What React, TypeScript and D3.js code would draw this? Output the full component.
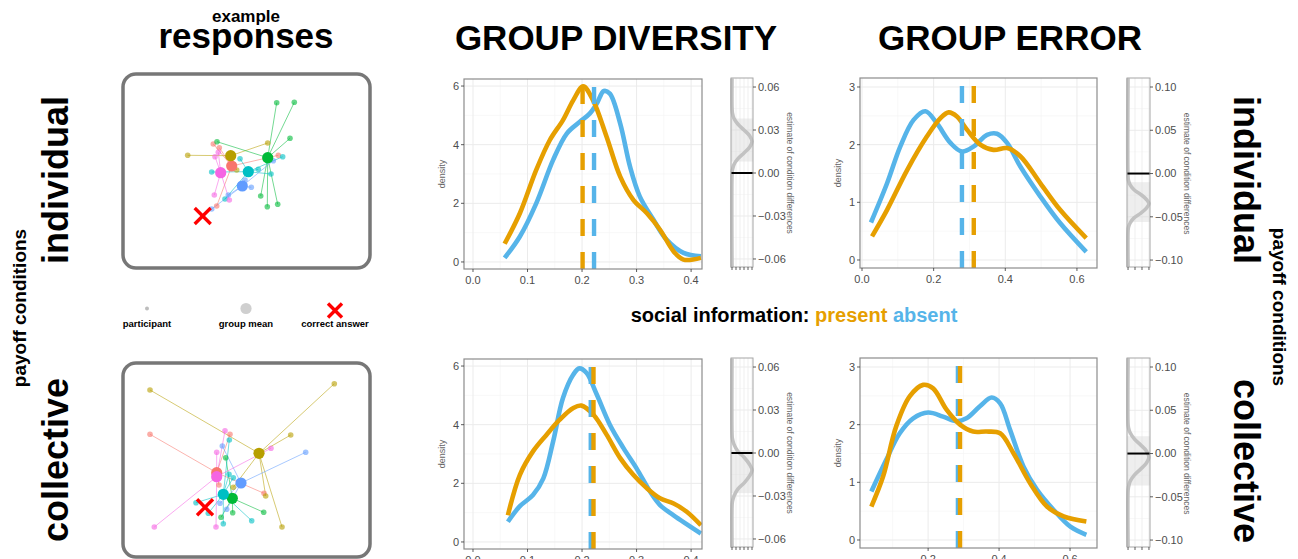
import React from 'react';
import * as d3 from 'd3';

const PRESENT = '#E69F00';
const ABSENT = '#56B4E9';
const FONT = 'Liberation Sans, Arial, Helvetica, sans-serif';

// ggplot hue palette for the 6 example groups
const HUE = ['#F8766D', '#B79F00', '#00BA38', '#00BFC4', '#619CFF', '#F564E3'];

// ---- example responses (box units 0..247 x 0..195) ----
const indivMeans: [number, number][] = [[108.7, 92], [107.7, 81.7], [144.7, 83.7], [125.3, 97.7], [119.3, 112], [97.7, 98.7]];
const indivParticipants: [number, number][][] = [
  [[90.3, 70], [155.3, 81.3], [93.7, 132], [96.3, 73.7]],
  [[64.7, 81.3], [144.7, 69], [113.7, 96]],
  [[153.7, 28.7], [171.3, 28.3], [167, 64.3], [94, 67.7], [137.7, 122], [144.3, 132.7], [154.7, 130.3]],
  [[117, 84.7], [88.7, 98], [159.7, 82.7], [148, 100], [102, 125], [135.3, 95.3]],
  [[128.3, 113.3], [150.3, 86.7], [105.3, 121], [88.7, 135], [122, 106]],
  [[92, 82.7], [91.3, 121], [106.3, 126], [95.3, 78.3]],
];
const indivAnswer: [number, number] = [79.7, 142];

const collMeans: [number, number][] = [[93.7, 109.7], [136, 90.3], [109.3, 135.3], [100.3, 131.3], [118, 120], [93.7, 113.7]];
const collParticipants: [number, number][][] = [
  [[27, 71.3], [107, 71.3], [141, 130.3], [96, 122]],
  [[27, 27], [211.3, 20.7], [167.7, 72], [159, 164], [142.7, 133], [110.3, 124.3]],
  [[102.7, 94.7], [140.7, 149.3], [98, 154.3], [109.7, 149.7]],
  [[106.3, 77], [106, 111.3], [110.3, 114.7], [73, 139.7], [100.3, 160.7], [128.7, 157.7], [85.3, 150.3]],
  [[182.7, 89.3], [99.3, 83], [97, 140.3], [103.7, 146.3]],
  [[102, 67.7], [93.7, 89.3], [148, 85.3], [31.3, 164], [93, 164]],
];
const collAnswer: [number, number] = [82, 144.3];

// ---- density curves [value, density] ----
const divIndivPresent: [number, number][] = [[0.058, 0.62], [0.086, 1.66], [0.116, 3.14], [0.141, 4.16], [0.165, 4.84], [0.184, 5.52], [0.202, 5.99], [0.22, 5.52], [0.245, 4.27], [0.27, 2.91], [0.294, 2.12], [0.319, 1.66], [0.343, 1.1], [0.368, 0.36], [0.386, 0.08], [0.418, 0.14]];
const divIndivAbsent: [number, number][] = [[0.058, 0.14], [0.086, 0.87], [0.116, 2.0], [0.147, 3.48], [0.172, 4.38], [0.196, 4.78], [0.214, 5.06], [0.227, 5.4], [0.24, 5.83], [0.251, 5.74], [0.27, 4.72], [0.288, 3.25], [0.306, 2.23], [0.331, 1.44], [0.355, 0.76], [0.386, 0.31], [0.418, 0.19]];
const errIndivPresent: [number, number][] = [[0.028, 0.41], [0.07, 0.87], [0.126, 1.56], [0.181, 2.14], [0.219, 2.46], [0.242, 2.56], [0.265, 2.49], [0.293, 2.26], [0.33, 2.0], [0.367, 1.91], [0.405, 1.94], [0.442, 1.8], [0.498, 1.33], [0.553, 0.87], [0.626, 0.38]];
const errIndivAbsent: [number, number][] = [[0.025, 0.65], [0.07, 1.33], [0.107, 1.97], [0.144, 2.43], [0.177, 2.58], [0.209, 2.37], [0.247, 2.03], [0.279, 1.88], [0.312, 1.97], [0.349, 2.17], [0.377, 2.19], [0.405, 2.03], [0.442, 1.62], [0.498, 1.1], [0.553, 0.64], [0.626, 0.14]];
const divCollPresent: [number, number][] = [[0.064, 0.91], [0.086, 2.29], [0.11, 3.09], [0.135, 3.66], [0.159, 4.17], [0.184, 4.57], [0.199, 4.65], [0.221, 4.34], [0.245, 3.66], [0.27, 2.86], [0.294, 2.29], [0.319, 1.83], [0.343, 1.49], [0.368, 1.31], [0.392, 1.03], [0.418, 0.57]];
const divCollAbsent: [number, number][] = [[0.064, 0.69], [0.086, 1.22], [0.11, 1.6], [0.129, 2.17], [0.147, 3.43], [0.165, 4.91], [0.184, 5.71], [0.195, 5.92], [0.208, 5.77], [0.227, 5.03], [0.251, 4.0], [0.276, 3.2], [0.3, 2.51], [0.325, 1.71], [0.343, 1.26], [0.368, 0.91], [0.418, 0.29]];
const errCollPresent: [number, number][] = [[0.04, 0.58], [0.073, 1.1], [0.11, 1.97], [0.148, 2.49], [0.186, 2.69], [0.214, 2.63], [0.252, 2.26], [0.29, 2.0], [0.327, 1.88], [0.365, 1.88], [0.403, 1.85], [0.441, 1.5], [0.488, 0.98], [0.535, 0.58], [0.582, 0.41], [0.646, 0.32]];
const errCollAbsent: [number, number][] = [[0.04, 0.84], [0.082, 1.39], [0.12, 1.85], [0.158, 2.11], [0.2, 2.21], [0.242, 2.14], [0.28, 2.06], [0.308, 2.11], [0.346, 2.32], [0.379, 2.47], [0.403, 2.37], [0.431, 1.91], [0.469, 1.27], [0.507, 0.87], [0.554, 0.52], [0.601, 0.23], [0.646, 0.09]];

// group means [present, absent]
const divIndivMeans = [0.201, 0.222];
const errIndivMeans = [0.312, 0.279];
const divCollMeans = [0.221, 0.216];
const errCollMeans = [0.290, 0.284];

// ---- posterior of condition difference [estimate, relative density] ----
const divIndivDiff: [number, number][] = [[0.066, 0], [0.046, 0], [0.042, 0.02], [0.038, 0.1], [0.034, 0.3], [0.03, 0.6], [0.026, 0.88], [0.022, 1], [0.018, 0.88], [0.014, 0.6], [0.01, 0.3], [0.006, 0.1], [0.002, 0.02], [-0.002, 0], [-0.066, 0]];
const errIndivDiff: [number, number][] = [[0.11, 0], [-0.004, 0], [-0.008, 0.02], [-0.013, 0.1], [-0.019, 0.3], [-0.024, 0.6], [-0.03, 0.88], [-0.035, 1], [-0.04, 0.88], [-0.046, 0.6], [-0.051, 0.3], [-0.057, 0.1], [-0.062, 0.02], [-0.066, 0], [-0.108, 0]];
const divCollDiff: [number, number][] = [[0.066, 0], [0.014, 0], [0.01, 0.02], [0.006, 0.1], [0.001, 0.3], [-0.003, 0.6], [-0.008, 0.88], [-0.012, 1], [-0.016, 0.88], [-0.021, 0.6], [-0.025, 0.3], [-0.03, 0.1], [-0.034, 0.02], [-0.038, 0], [-0.066, 0]];
const errCollDiff: [number, number][] = [[0.11, 0], [0.034, 0], [0.03, 0.02], [0.024, 0.1], [0.017, 0.3], [0.01, 0.6], [0.003, 0.88], [-0.004, 1], [-0.011, 0.88], [-0.018, 0.6], [-0.025, 0.3], [-0.032, 0.1], [-0.039, 0.02], [-0.043, 0], [-0.108, 0]];
const divIndivCI = [0.008, 0.038];
const errIndivCI = [-0.056, -0.01];
const divCollCI = [-0.028, 0.002];
const errCollCI = [-0.037, 0.02];

// ---- ticks ----
const divXTicks = [0, 0.1, 0.2, 0.3, 0.4];
const divXMinor = [0.05, 0.15, 0.25, 0.35];
const divYTicks = [0, 2, 4, 6];
const divYMinor = [1, 3, 5];
const errXTicks = [0, 0.2, 0.4, 0.6];
const errXMinor = [0.1, 0.3, 0.5];
const errYTicks = [0, 1, 2, 3];
const errYMinor = [0.5, 1.5, 2.5];
const divDiffTicks = [0.06, 0.03, 0, -0.03, -0.06];
const divDiffMinor = [0.045, 0.015, -0.015, -0.045];
const errDiffTicks = [0.1, 0.05, 0, -0.05, -0.1];
const errDiffMinor = [0.075, 0.025, -0.025, -0.075];
const divStripTicks = [0, 0.2, 0.4, 0.6, 0.8, 1];
const errStripTicks = [0, 1 / 3, 2 / 3, 1];

type Pt = [number, number];

function DensityPanel(p: any) {
  const { id, left, right, top, bottom, xDomain, yDomain, xTicks, xMinor, yTicks, yMinor, present, absent, means } = p;
  const x = d3.scaleLinear().domain(xDomain).range([left, right]);
  const y = d3.scaleLinear().domain(yDomain).range([bottom, top]);
  const line = d3.line<Pt>().x(d => x(d[0])).y(d => y(d[1])).curve(d3.curveCatmullRom);
  const fx = d3.format('.1f');
  const inX = (v: number) => x(v) >= left - 0.5 && x(v) <= right + 0.5;
  return (
    <g>
      <clipPath id={id}><rect x={left} y={top} width={right - left} height={bottom - top} /></clipPath>
      <rect x={left} y={top} width={right - left} height={bottom - top} fill="#fff" />
      {xMinor.map((t: number) => <line key={'xm' + t} x1={x(t)} x2={x(t)} y1={top} y2={bottom} stroke="#f4f4f4" strokeWidth={0.6} />)}
      {yMinor.map((t: number) => <line key={'ym' + t} x1={left} x2={right} y1={y(t)} y2={y(t)} stroke="#f4f4f4" strokeWidth={0.6} />)}
      {xTicks.filter(inX).map((t: number) => <line key={'xg' + t} x1={x(t)} x2={x(t)} y1={top} y2={bottom} stroke="#ebebeb" strokeWidth={1} />)}
      {yTicks.map((t: number) => <line key={'yg' + t} x1={left} x2={right} y1={y(t)} y2={y(t)} stroke="#ebebeb" strokeWidth={1} />)}
      <g clipPath={`url(#${id})`}>
        <path d={line(absent) || ''} fill="none" stroke={ABSENT} strokeWidth={4.6} />
        <path d={line(present) || ''} fill="none" stroke={PRESENT} strokeWidth={4.6} />
        <line x1={x(means[1])} x2={x(means[1])} y1={bottom} y2={top} stroke={ABSENT} strokeWidth={4.4} strokeDasharray="17,16" />
        <line x1={x(means[0])} x2={x(means[0])} y1={bottom} y2={top} stroke={PRESENT} strokeWidth={4.4} strokeDasharray="17,16" />
      </g>
      <rect x={left} y={top} width={right - left} height={bottom - top} fill="none" stroke="#8c8c8c" strokeWidth={1.2} />
      {yTicks.map((t: number) => (
        <g key={'yt' + t}>
          <line x1={left - 3} x2={left} y1={y(t)} y2={y(t)} stroke="#333" strokeWidth={0.8} />
          <text x={left - 5} y={y(t)} dy="0.36em" textAnchor="end" fontSize={11} fill="#4d4d4d" fontFamily={FONT}>{t}</text>
        </g>
      ))}
      {xTicks.filter(inX).map((t: number) => (
        <g key={'xt' + t}>
          <line x1={x(t)} x2={x(t)} y1={bottom} y2={bottom + 3} stroke="#333" strokeWidth={0.8} />
          <text x={x(t)} y={bottom + 15} textAnchor="middle" fontSize={11} fill="#4d4d4d" fontFamily={FONT}>{fx(t)}</text>
        </g>
      ))}
      <text transform={`translate(${left - 19},${(top + bottom) / 2}) rotate(-90)`} textAnchor="middle" fontSize={9} fill="#666" fontFamily={FONT}>density</text>
    </g>
  );
}

function DiffStrip(p: any) {
  const { left, right, top, bottom, domain, ticks, minor, post, ci, stripTicks } = p;
  const y = d3.scaleLinear().domain(domain).range([bottom, top]);
  const x = d3.scaleLinear().domain([-0.05, 1.05]).range([left, right]);
  const line = d3.line<Pt>().x(d => x(d[1])).y(d => y(d[0])).curve(d3.curveCatmullRom);
  const f = d3.format('.2f');
  return (
    <g>
      <rect x={left} y={top} width={right - left} height={bottom - top} fill="#fff" />
      {minor.map((t: number) => <line key={'m' + t} x1={left} x2={right} y1={y(t)} y2={y(t)} stroke="#f4f4f4" strokeWidth={0.6} />)}
      {ticks.map((t: number) => <line key={'g' + t} x1={left} x2={right} y1={y(t)} y2={y(t)} stroke="#ebebeb" strokeWidth={1} />)}
      {stripTicks.map((t: number) => <line key={'v' + t} x1={x(t)} x2={x(t)} y1={top} y2={bottom} stroke="#ebebeb" strokeWidth={0.8} />)}
      <rect x={left} y={y(ci[1])} width={right - left} height={y(ci[0]) - y(ci[1])} fill="#d9d9d9" opacity={0.45} />
      <path d={line(post) || ''} fill="none" stroke="#c2c2c2" strokeWidth={3.6} />
      <line x1={left} x2={right} y1={y(0)} y2={y(0)} stroke="#000" strokeWidth={2} />
      <rect x={left} y={top} width={right - left} height={bottom - top} fill="none" stroke="#a6a6a6" strokeWidth={1} />
      {stripTicks.map((t: number) => <line key={'bt' + t} x1={x(t)} x2={x(t)} y1={bottom} y2={bottom + 3} stroke="#333" strokeWidth={0.8} />)}
      {ticks.map((t: number) => (
        <g key={'t' + t}>
          <line x1={right} x2={right + 3} y1={y(t)} y2={y(t)} stroke="#333" strokeWidth={0.8} />
          <text x={right + 5} y={y(t)} dy="0.36em" fontSize={11} fill="#4d4d4d" fontFamily={FONT}>{f(t)}</text>
        </g>
      ))}
      <text transform={`translate(${right + 34},${y(0)}) rotate(90)`} textAnchor="middle" fontSize={8.5} fill="#666" fontFamily={FONT}>estimate of condition differences</text>
    </g>
  );
}

function Example(p: any) {
  const { top, means, participants, answer } = p;
  const ex = d3.scaleLinear().domain([0, 247]).range([123, 370]);
  const ey = d3.scaleLinear().domain([0, 195]).range([top, top + 195]);
  return (
    <g>
      <rect x={ex(0)} y={ey(0)} width={247} height={194} rx={13} fill="#fff" stroke="#777" strokeWidth={3.5} />
      {participants.map((pts: Pt[], g: number) => pts.map((q, i) => (
        <line key={`l${g}-${i}`} x1={ex(q[0])} y1={ey(q[1])} x2={ex(means[g][0])} y2={ey(means[g][1])} stroke={HUE[g]} strokeOpacity={0.55} strokeWidth={1} />
      )))}
      {participants.map((pts: Pt[], g: number) => pts.map((q, i) => (
        <circle key={`c${g}-${i}`} cx={ex(q[0])} cy={ey(q[1])} r={2.8} fill={HUE[g]} fillOpacity={0.6} />
      )))}
      {means.map((m: Pt, g: number) => <circle key={'m' + g} cx={ex(m[0])} cy={ey(m[1])} r={5.6} fill={HUE[g]} />)}
      <Cross cx={ex(answer[0])} cy={ey(answer[1])} s={8} />
    </g>
  );
}

function Cross({ cx, cy, s }: { cx: number; cy: number; s: number }) {
  return (
    <g stroke="#f00" strokeWidth={3.4}>
      <line x1={cx - s} y1={cy - s} x2={cx + s} y2={cy + s} />
      <line x1={cx - s} y1={cy + s} x2={cx + s} y2={cy - s} />
    </g>
  );
}

const bold = { fontFamily: FONT, fontWeight: 700 } as const;

export default function App() {
  const rows = [0, 280];
  return (
    <svg width={1298} height={559} style={{ position: 'absolute', left: 0, top: 0, background: '#fff' }}>
      <rect width={1298} height={559} fill="#fff" />
      {/* headers */}
      <text x={246} y={22} textAnchor="middle" fontSize={17} {...bold}>example</text>
      <text x={246} y={48} textAnchor="middle" fontSize={35} {...bold}>responses</text>
      <text x={616} y={50} textAnchor="middle" fontSize={35} {...bold}>GROUP DIVERSITY</text>
      <text x={1010} y={50} textAnchor="middle" fontSize={35} {...bold}>GROUP ERROR</text>

      {/* row labels */}
      <text transform="translate(68,180) rotate(-90)" textAnchor="middle" fontSize={36} {...bold}>individual</text>
      <text transform="translate(68,460) rotate(-90)" textAnchor="middle" fontSize={36} {...bold}>collective</text>
      <text transform="translate(26,308) rotate(-90)" textAnchor="middle" fontSize={19} {...bold}>payoff conditions</text>
      <text transform="translate(1234,180) rotate(90)" textAnchor="middle" fontSize={36} {...bold}>individual</text>
      <text transform="translate(1234,461) rotate(90)" textAnchor="middle" fontSize={36} {...bold}>collective</text>
      <text transform="translate(1273,307) rotate(90)" textAnchor="middle" fontSize={19} {...bold}>payoff conditions</text>

      {/* example responses */}
      <Example top={74} means={indivMeans} participants={indivParticipants} answer={indivAnswer} />
      <Example top={363} means={collMeans} participants={collParticipants} answer={collAnswer} />

      {/* example legend */}
      <circle cx={147} cy={308.5} r={2} fill="#bdbdbd" />
      <circle cx={246} cy={308.5} r={5.6} fill="#cfcfcf" />
      <Cross cx={335} cy={310.5} s={7} />
      <text x={147} y={327} textAnchor="middle" fontSize={9.5} {...bold}>participant</text>
      <text x={246} y={327} textAnchor="middle" fontSize={9.5} {...bold}>group mean</text>
      <text x={335} y={327} textAnchor="middle" fontSize={9.5} {...bold}>correct answer</text>

      {/* social information legend */}
      <text x={794} y={322} textAnchor="middle" fontSize={20} {...bold}>
        <tspan fill="#000">social information: </tspan>
        <tspan fill={PRESENT}>present</tspan>
        <tspan fill={ABSENT}> absent</tspan>
      </text>

      {/* density panels */}
      <DensityPanel id="p1" left={464} right={702} top={79} bottom={269} xDomain={[-0.0165, 0.42]} yDomain={[-0.24, 6.24]}
        xTicks={divXTicks} xMinor={divXMinor} yTicks={divYTicks} yMinor={divYMinor}
        present={divIndivPresent} absent={divIndivAbsent} means={divIndivMeans} />
      <DensityPanel id="p2" left={860} right={1097} top={78} bottom={268} xDomain={[-0.0056, 0.656]} yDomain={[-0.139, 3.156]}
        xTicks={errXTicks} xMinor={errXMinor} yTicks={errYTicks} yMinor={errYMinor}
        present={errIndivPresent} absent={errIndivAbsent} means={errIndivMeans} />
      <DensityPanel id="p3" left={464} right={702} top={79 + rows[1]} bottom={269 + rows[1]} xDomain={[-0.0165, 0.42]} yDomain={[-0.24, 6.24]}
        xTicks={divXTicks} xMinor={divXMinor} yTicks={divYTicks} yMinor={divYMinor}
        present={divCollPresent} absent={divCollAbsent} means={divCollMeans} />
      <DensityPanel id="p4" left={860} right={1097} top={78 + rows[1]} bottom={268 + rows[1]} xDomain={[0.008, 0.676]} yDomain={[-0.139, 3.156]}
        xTicks={errXTicks} xMinor={errXMinor} yTicks={errYTicks} yMinor={errYMinor}
        present={errCollPresent} absent={errCollAbsent} means={errCollMeans} />

      {/* difference strips */}
      <DiffStrip left={731} right={753} top={78} bottom={267} domain={[-0.0656, 0.0663]} ticks={divDiffTicks} minor={divDiffMinor}
        post={divIndivDiff} ci={divIndivCI} stripTicks={divStripTicks} />
      <DiffStrip left={1127} right={1150} top={78} bottom={267} domain={[-0.108, 0.1104]} ticks={errDiffTicks} minor={errDiffMinor}
        post={errIndivDiff} ci={errIndivCI} stripTicks={errStripTicks} />
      <DiffStrip left={731} right={753} top={78 + rows[1]} bottom={267 + rows[1]} domain={[-0.0656, 0.0663]} ticks={divDiffTicks} minor={divDiffMinor}
        post={divCollDiff} ci={divCollCI} stripTicks={divStripTicks} />
      <DiffStrip left={1127} right={1150} top={78 + rows[1]} bottom={267 + rows[1]} domain={[-0.108, 0.1104]} ticks={errDiffTicks} minor={errDiffMinor}
        post={errCollDiff} ci={errCollCI} stripTicks={errStripTicks} />
    </svg>
  );
}
